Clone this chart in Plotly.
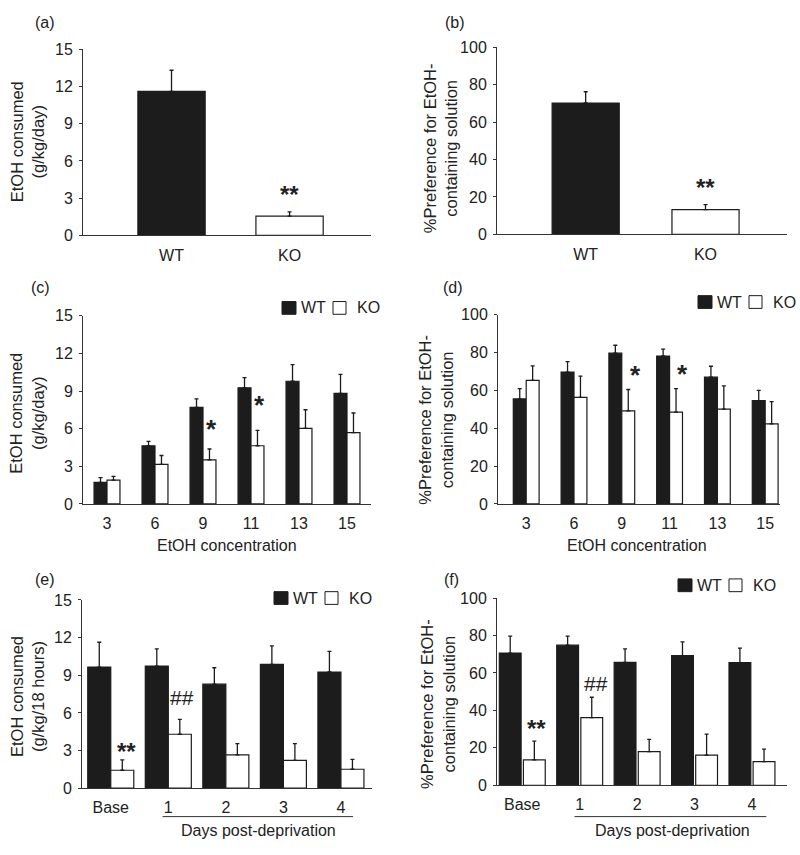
import plotly.graph_objects as go

W, H = 800, 855

# ---------------- data ----------------
groups_ab = ["WT", "KO"]
a_mean = [11.6, 1.55]
a_top = [13.3, 1.9]
b_mean = [70.2, 13.2]
b_top = [76.2, 15.9]

conc = ["3", "6", "9", "11", "13", "15"]
c_wt = [1.72, 4.64, 7.69, 9.26, 9.78, 8.82]
c_wt_top = [2.1, 4.98, 8.37, 10.07, 11.1, 10.33]
c_ko = [1.9, 3.15, 3.52, 4.64, 6.02, 5.69]
c_ko_top = [2.2, 3.86, 4.38, 5.87, 7.51, 7.25]

d_wt = [55.5, 69.7, 79.7, 78.2, 67.0, 54.6]
d_wt_top = [61.0, 75.2, 83.9, 81.8, 72.8, 60.0]
d_ko = [65.3, 56.3, 49.2, 48.5, 50.1, 42.3]
d_ko_top = [73.0, 67.6, 60.5, 61.0, 62.4, 54.1]

days = ["Base", "1", "2", "3", "4"]
e_wt = [9.65, 9.73, 8.29, 9.86, 9.26]
e_wt_top = [11.63, 11.1, 9.6, 11.35, 10.9]
e_ko = [1.43, 4.30, 2.66, 2.22, 1.51]
e_ko_top = [2.25, 5.48, 3.55, 3.55, 2.29]

f_wt = [70.6, 74.8, 65.6, 69.2, 65.5]
f_wt_top = [79.7, 79.7, 72.8, 76.6, 73.2]
f_ko = [13.5, 36.1, 17.9, 16.1, 12.6]
f_ko_top = [23.6, 47.0, 24.5, 27.3, 19.3]

# ---------------- styling ----------------
FONT = "Liberation Sans, Arial, sans-serif"
TXT = "#222222"
LINE = "#333333"
BLACK = "#1c1c1c"


def px(x):
    return x / W


def py(y):
    return 1 - y / H


fig = go.Figure()


def bars(xname, yname, cats, vals, tops, fill, offset, width):
    fig.add_trace(go.Bar(
        x=cats, y=vals, xaxis=xname, yaxis=yname,
        marker=dict(color=fill, line=dict(color=BLACK, width=1.2)),
        offset=offset, width=width, showlegend=False,
        error_y=dict(type="data", symmetric=False,
                     array=[t - v for t, v in zip(tops, vals)],
                     arrayminus=[0] * len(vals),
                     color=BLACK, thickness=1.3, width=2),
    ))


# panel geometry in pixels: (x0, x1, ytop, ybottom), x range
panels = {
    1: dict(dom=(83, 371, 42, 232), xr=[-0.75, 1.69], yr=[0, 15], dt=3, cats=groups_ab),
    2: dict(dom=(497, 787, 40, 231), xr=[-0.74, 1.68], yr=[0, 100], dt=20, cats=groups_ab),
    3: dict(dom=(83, 371, 314, 506), xr=[-0.5, 5.5], yr=[0, 15], dt=3, cats=conc),
    4: dict(dom=(498, 780, 313, 506), xr=[-0.59, 5.31], yr=[0, 100], dt=20, cats=conc),
    5: dict(dom=(82, 372, 604, 796), xr=[-0.5, 4.54], yr=[0, 15], dt=3, cats=days),
    6: dict(dom=(497, 787, 602, 793), xr=[-0.44, 4.61], yr=[0, 100], dt=20, cats=days),
}

# (a), (b)
bars("x", "y", groups_ab, a_mean, a_top, [BLACK, "white"], -0.285, 0.57)
bars("x2", "y2", groups_ab, b_mean, b_top, [BLACK, "white"], -0.28, 0.56)
# (c), (d)
bars("x3", "y3", conc, c_wt, c_wt_top, BLACK, -0.27, 0.27)
bars("x3", "y3", conc, c_ko, c_ko_top, "white", 0.0, 0.27)
bars("x4", "y4", conc, d_wt, d_wt_top, BLACK, -0.27, 0.27)
bars("x4", "y4", conc, d_ko, d_ko_top, "white", 0.0, 0.27)
# (e), (f)
bars("x5", "y5", days, e_wt, e_wt_top, BLACK, -0.40, 0.40)
bars("x5", "y5", days, e_ko, e_ko_top, "white", 0.0, 0.40)
bars("x6", "y6", days, f_wt, f_wt_top, BLACK, -0.40, 0.38)
bars("x6", "y6", days, f_ko, f_ko_top, "white", 0.02, 0.38)

layout = dict(
    width=W, height=H, margin=dict(l=0, r=0, t=0, b=0),
    paper_bgcolor="white", plot_bgcolor="white",
    barmode="overlay", showlegend=False,
    font=dict(family=FONT, size=16, color=TXT),
)

for i, p in panels.items():
    x0, x1, yt, yb = p["dom"]
    sx = "" if i == 1 else str(i)
    layout["xaxis" + sx] = dict(
        domain=[px(x0), px(x1)], anchor="y" + sx, type="category",
        categoryorder="array", categoryarray=p["cats"],
        range=p["xr"], showline=True, linecolor=LINE, linewidth=1,
        ticks="", showgrid=False, zeroline=False, fixedrange=True,
        tickfont=dict(size=16, color=TXT, family=FONT), ticklabelstandoff=5,
    )
    layout["yaxis" + sx] = dict(
        domain=[py(yb), py(yt)], anchor="x" + sx,
        range=p["yr"], dtick=p["dt"], tick0=0,
        showline=True, linecolor=LINE, linewidth=1,
        ticks="outside", ticklen=3, tickcolor=LINE, tickwidth=1,
        showgrid=False, zeroline=False, fixedrange=True,
        tickfont=dict(size=16, color=TXT, family=FONT), ticklabelstandoff=3,
    )

fig.update_layout(**layout)

ann = []
shapes = []

# panel labels
for lab, x, y in [("(a)", 45, 15), ("(b)", 455, 15), ("(c)", 40, 285),
                  ("(d)", 453, 285), ("(e)", 45, 583), ("(f)", 452, 583)]:
    ann.append(dict(text=lab, x=px(x), y=py(y), xref="paper", yref="paper",
                    showarrow=False, xanchor="center", yanchor="middle",
                    font=dict(size=16, color=TXT)))

# y titles
for t, x, y in [("EtOH consumed<br>(g/kg/day)", 27, 137),
                ("%Preference for EtOH-<br>containing solution", 440, 143),
                ("EtOH consumed<br>(g/kg/day)", 27, 414),
                ("%Preference for EtOH-<br>containing solution", 436, 420),
                ("EtOH consumed<br>(g/kg/18 hours)", 27, 703),
                ("%Preference for EtOH-<br>containing solution", 438, 710)]:
    ann.append(dict(text=t, x=px(x), y=py(y), xref="paper", yref="paper",
                    showarrow=False, textangle=-90, xanchor="center", yanchor="middle",
                    font=dict(size=16.5, color=TXT)))

# x titles
for t, x, y in [("EtOH concentration", 227, 548), ("EtOH concentration", 637, 548),
                ("Days post-deprivation", 258, 839), ("Days post-deprivation", 672, 839)]:
    ann.append(dict(text=t, x=px(x), y=py(y), xref="paper", yref="paper",
                    showarrow=False, xanchor="center", yanchor="middle",
                    font=dict(size=16, color=TXT)))

# bracket lines under days 1-4
shapes.append(dict(type="line", xref="x5", yref="paper", x0=0.9, x1=4.21,
                   y0=py(825), y1=py(825), line=dict(color=LINE, width=1)))
shapes.append(dict(type="line", xref="x6", yref="paper", x0=0.91, x1=4.25,
                   y0=py(825), y1=py(825), line=dict(color=LINE, width=1)))

# significance marks: (text, axis suffix, x position, y data, pixel shift, size, bold)
marks = [
    ("**", "", 1.0, a_top[1], 23, 24, True),
    ("**", "2", 1.0, b_top[1], 23, 24, True),
    ("*", "3", 2.18, c_ko_top[2], 26, 26, True),
    ("*", "3", 3.18, c_ko_top[3], 31, 26, True),
    ("*", "4", 2.28, d_ko_top[2], 20, 26, True),
    ("*", "4", 3.28, d_ko_top[3], 21, 26, True),
    ("**", "5", 0.28, e_ko_top[0], 14, 24, True),
    ("##", "5", 1.24, e_ko_top[1], 23, 21, False),
    ("**", "6", 0.25, f_ko_top[0], 19, 24, True),
    ("##", "6", 1.28, f_ko_top[1], 15, 21, False),
]
for t, sx, x, y, shift, size, bold in marks:
    corr = -6 if t.startswith("*") else -1
    ann.append(dict(text=("<b>%s</b>" % t) if bold else t,
                    x=x, y=y, xref="x" + sx, yref="y" + sx,
                    showarrow=False, xanchor="center", yanchor="middle",
                    yshift=shift + corr, font=dict(size=size, color=TXT)))

# legends (c)-(f): black square, WT, white square, KO
for sqx, y in [(282, 306), (698, 300), (274, 602), (678, 589)]:
    shapes.append(dict(type="rect", xref="paper", yref="paper",
                       x0=px(sqx), x1=px(sqx + 14), y0=py(y - 6.5), y1=py(y + 6.5),
                       fillcolor=BLACK, line=dict(color=BLACK, width=1)))
    ann.append(dict(text="WT", x=px(sqx + 17), y=py(y), xref="paper", yref="paper",
                    showarrow=False, xanchor="left", yanchor="middle",
                    font=dict(size=16, color=TXT)))
    shapes.append(dict(type="rect", xref="paper", yref="paper",
                       x0=px(sqx + 51), x1=px(sqx + 64), y0=py(y - 6.5), y1=py(y + 6.5),
                       fillcolor="white", line=dict(color=BLACK, width=1)))
    ann.append(dict(text="KO", x=px(sqx + 73), y=py(y), xref="paper", yref="paper",
                    showarrow=False, xanchor="left", yanchor="middle",
                    font=dict(size=16, color=TXT)))

fig.update_layout(annotations=ann, shapes=shapes)

post = (
    "document.documentElement.style.margin='0';"
    "document.documentElement.style.padding='0';"
    "document.documentElement.style.overflow='hidden';"
    "document.body.style.margin='0';"
    "document.body.style.padding='0';"
    "document.body.style.overflow='hidden';"
    "var gd=document.getElementById('{plot_id}');"
    "gd.style.position='fixed';gd.style.left='0px';gd.style.top='0px';"
)
fig.write_html("out.html", post_script=post, config={"displayModeBar": False})
